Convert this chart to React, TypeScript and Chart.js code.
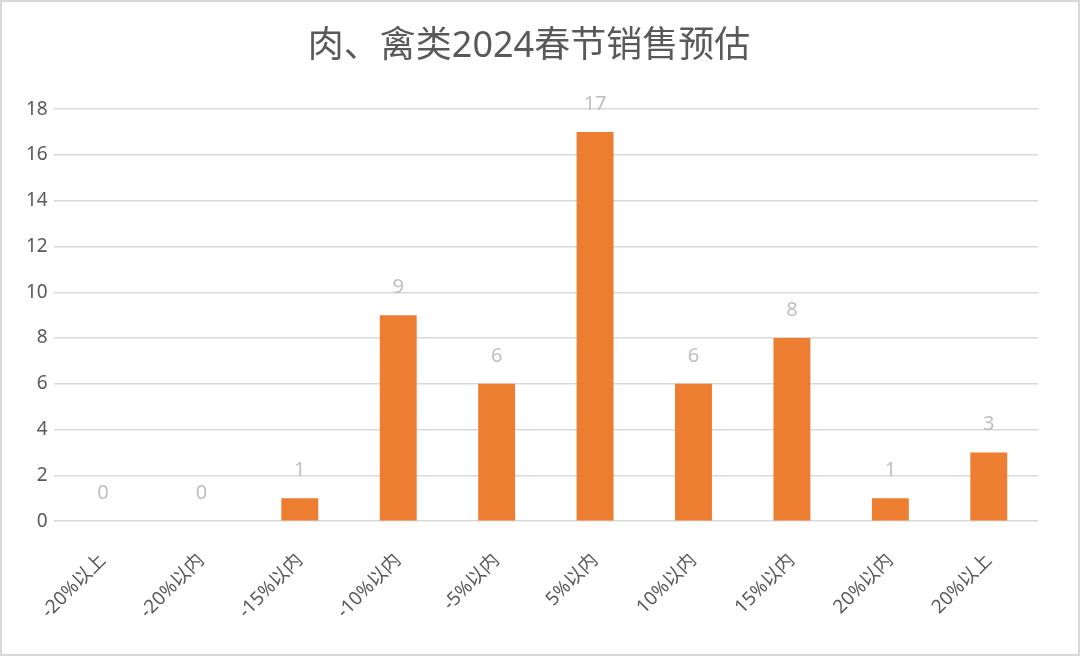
import React, { useEffect, useRef } from "react";
import { Chart, registerables } from "chart.js";

Chart.register(...registerables);

const TITLE = "肉、禽类2024春节销售预估";
const CATEGORIES = ["-20%以上", "-20%以内", "-15%以内", "-10%以内", "-5%以内", "5%以内", "10%以内", "15%以内", "20%以内", "20%以上"];
const VALUES = [0, 0, 1, 9, 6, 17, 6, 8, 1, 3];
const Y_MIN = 0;
const Y_MAX = 18;
const Y_STEP = 2;

const FONT = "'Noto Sans', 'Noto Sans CJK SC', sans-serif";

const labelPlugin = {
  id: "barLabels",
  afterDatasetsDraw(chart: any) {
    const ctx = chart.ctx;
    const meta = chart.getDatasetMeta(0);
    ctx.save();
    ctx.font = `20px ${FONT}`;
    ctx.fillStyle = "#BFBFBF";
    ctx.textAlign = "center";
    ctx.textBaseline = "alphabetic";
    meta.data.forEach((bar: any, i: number) => {
      ctx.fillText(String(VALUES[i]), bar.x, bar.y - 22);
    });
    ctx.restore();
  },
};

export default function App() {
  const ref = useRef<HTMLCanvasElement>(null);
  useEffect(() => {
    document.body.style.margin = "0";
    const chart = new Chart(ref.current as HTMLCanvasElement, {
      type: "bar",
      data: {
        labels: CATEGORIES,
        datasets: [
          {
            data: VALUES,
            backgroundColor: "#ED7D31",
            categoryPercentage: 1,
            barPercentage: 0.375,
          },
        ],
      },
      options: {
        animation: false,
        responsive: false,
        maintainAspectRatio: false,
        layout: { padding: { left: 18, right: 40, top: 0, bottom: 11 } },
        plugins: {
          legend: { display: false },
          tooltip: { enabled: false },
          title: {
            display: true,
            text: TITLE,
            color: "#595959",
            font: { size: 36, family: FONT, weight: "normal" },
            padding: { top: 23, bottom: 41 },
          },
        },
        scales: {
          x: {
            grid: { display: false },
            border: { display: false },
            ticks: {
              autoSkip: false,
              maxRotation: 45,
              minRotation: 45,
              color: "#595959",
              font: { size: 19, family: FONT },
              padding: 20,
            },
          },
          y: {
            min: Y_MIN,
            max: Y_MAX,
            grid: { color: "#D9D9D9", lineWidth: 1.5, drawTicks: false },
            border: { display: false },
            ticks: {
              stepSize: Y_STEP,
              color: "#595959",
              font: { size: 19, family: FONT },
              padding: 6,
            },
          },
        },
      },
      plugins: [labelPlugin],
    });
    return () => chart.destroy();
  }, []);
  return (
    <div style={{ width: 1080, height: 656, boxSizing: "border-box", border: "2px solid #D9D9D9", background: "#fff" }}>
      <canvas ref={ref} width={1076} height={652} style={{ display: "block", width: 1076, height: 652 }} />
    </div>
  );
}
